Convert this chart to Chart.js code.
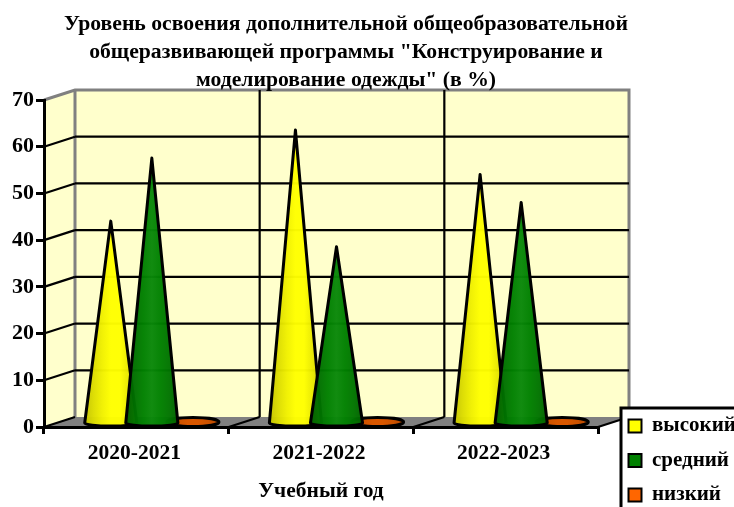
<!DOCTYPE html>
<html><head><meta charset="utf-8">
<style>html,body{margin:0;padding:0;background:#fff;overflow:hidden}canvas{display:block}</style>
<script src="https://cdn.jsdelivr.net/npm/chart.js@4"></script>
</head><body><canvas id="c" width="734" height="507" style="width:734px;height:507px"></canvas>
<script>
const categories = ['2020-2021', '2021-2022', '2022-2023'];
const high = [43, 62.5, 53];
const mid = [56.5, 37.5, 47];
const low = [0, 0, 0];
const seriesNames = ['высокий', 'средний', 'низкий'];
const titleLines = ['Уровень освоения дополнительной общеобразовательной', 'общеразвивающей программы "Конструирование и', 'моделирование одежды" (в %)'];
const xTitle = 'Учебный год';
const FONT = '"Liberation Serif","Times New Roman",serif';
const DX = 31, DY = -10;

const ramps = {
  '#FFFF00': ['#c4c400', '#dcdc00', '#f0f000', '#ffff00', '#ffff00', '#e8e800', '#c8c800'],
  '#008000': ['#005c00', '#007000', '#008000', '#0a880a', '#008000', '#007400', '#006000'],
  '#FF6600': ['#b34700', '#cc5200', '#d95700', '#d95700', '#cc5200', '#b34700']
};

Chart.BarElement.prototype.draw = function (ctx) {
  const { x, y, base, width } = this.getProps(['x', 'y', 'base', 'width'], true);
  const cx = x + DX / 2, hw = width * 0.635, by = base + DY / 2;
  const top = y + DY / 2;
  const flat = base - y < 1;
  const g = ctx.createLinearGradient(cx - hw, 0, cx + hw, 0);
  const r = ramps[this.options.backgroundColor] || ramps['#FFFF00'];
  r.forEach((c, i) => g.addColorStop(i / (r.length - 1), c));
  ctx.save();
  ctx.fillStyle = g;
  ctx.strokeStyle = '#000';
  ctx.lineWidth = 3;
  ctx.lineJoin = 'round';
  ctx.beginPath();
  if (flat) {
    ctx.ellipse(cx, by, hw, 4.5, 0, 0, Math.PI * 2);
  } else {
    ctx.moveTo(cx, top);
    ctx.lineTo(cx + hw, by + 2.5);
    ctx.ellipse(cx, by + 2.5, hw, 3, 0, 0, Math.PI);
    ctx.closePath();
  }
  ctx.globalAlpha = flat ? 1 : 0.97;
  ctx.fill();
  ctx.globalAlpha = 1;
  ctx.stroke();
  ctx.restore();
};

const scene = {
  id: 'scene',
  afterLayout(chart) {
    const t = chart.titleBlock;
    t.left = 0; t.right = 692;
    const l = chart.legend;
    const w = l.width, h = l.height;
    l.left = 615; l.top = 402; l.right = l.left + w; l.bottom = l.top + h;
  },
  beforeDatasetsDraw(chart) {
    [2, 0, 1].forEach(i => chart.getDatasetMeta(i).controller.draw());
    return false;
  },
  beforeDraw(chart) {
    const { ctx, chartArea: a, scales: { x, y } } = chart;
    const y0 = y.getPixelForValue(0), yTop = y.getPixelForValue(70);
    const L = a.left, R = a.right;
    ctx.save();
    ctx.fillStyle = '#fff';
    ctx.fillRect(0, 0, chart.width, chart.height);
    ctx.fillStyle = '#FFFFCC';
    ctx.beginPath();
    ctx.moveTo(L, y0); ctx.lineTo(L, yTop); ctx.lineTo(L + DX, yTop + DY);
    ctx.lineTo(R + DX, yTop + DY); ctx.lineTo(R + DX, y0 + DY); ctx.lineTo(L + DX, y0 + DY);
    ctx.closePath(); ctx.fill();
    ctx.fillStyle = '#808080';
    ctx.beginPath();
    ctx.moveTo(L, y0); ctx.lineTo(L + DX, y0 + DY); ctx.lineTo(R + DX, y0 + DY); ctx.lineTo(R, y0);
    ctx.closePath(); ctx.fill();
    ctx.strokeStyle = '#808080'; ctx.lineWidth = 3;
    ctx.beginPath();
    ctx.moveTo(L, yTop); ctx.lineTo(L + DX, yTop + DY); ctx.lineTo(R + DX, yTop + DY); ctx.lineTo(R + DX, y0 + DY);
    ctx.moveTo(L + DX, yTop + DY); ctx.lineTo(L + DX, y0 + DY);
    ctx.stroke();
    ctx.strokeStyle = '#000'; ctx.lineWidth = 2.2;
    ctx.beginPath();
    y.ticks.forEach(tk => {
      if (tk.value === 70) return;
      const p = y.getPixelForValue(tk.value);
      if (tk.value > 0) {
        ctx.moveTo(L + DX, p + DY); ctx.lineTo(R + DX, p + DY);
      }
      ctx.moveTo(L, p); ctx.lineTo(L + DX, p + DY);
    });
    const step = (R - L) / categories.length;
    for (let i = 1; i <= categories.length; i++) {
      const fx = L + step * i;
      ctx.moveTo(fx, y0); ctx.lineTo(fx + DX, y0 + DY);
      if (i < categories.length) { ctx.moveTo(fx + DX, y0 + DY); ctx.lineTo(fx + DX, yTop + DY); }
    }
    ctx.stroke();
    // legend frame
    ctx.fillStyle = '#fff'; ctx.strokeStyle = '#000'; ctx.lineWidth = 3;
    ctx.fillRect(621, 408, 120, 110);
    ctx.strokeRect(621, 408, 120, 110);
    ctx.restore();
  }
};

new Chart(document.getElementById('c'), {
  type: 'bar',
  data: {
    labels: categories,
    datasets: [
      { label: seriesNames[0], data: high, backgroundColor: '#FFFF00', borderColor: '#000', borderWidth: 2 },
      { label: seriesNames[1], data: mid, backgroundColor: '#008000', borderColor: '#000', borderWidth: 2 },
      { label: seriesNames[2], data: low, backgroundColor: '#FF6600', borderColor: '#000', borderWidth: 2 }
    ]
  },
  plugins: [scene],
  options: {
    responsive: false,
    animation: false,
    layout: { padding: { left: 0, right: 136, top: 0, bottom: 0 } },
    datasets: { bar: { categoryPercentage: 0.667, barPercentage: 1 } },
    plugins: {
      tooltip: { enabled: false },
      title: {
        display: true, text: titleLines, color: '#000',
        font: { family: FONT, size: 21.7, weight: 'bold', lineHeight: 28 / 21.7 },
        padding: { top: 10, bottom: 6 }
      },
      legend: {
        position: 'chartArea', align: 'start',
        labels: {
          font: { family: FONT, size: 21, weight: 'bold' }, color: '#000',
          boxWidth: 13, boxHeight: 13, padding: 13.5
        }
      }
    },
    scales: {
      x: {
        grid: { drawOnChartArea: false, color: '#000', tickColor: '#000', tickLength: 7, lineWidth: 3 },
        border: { color: '#000', width: 3 },
        ticks: { color: '#000', font: { family: FONT, size: 21.5, weight: 'bold' }, padding: 7, maxRotation: 0, labelOffset: -2 },
        title: { display: true, text: xTitle, color: '#000', font: { family: FONT, size: 21.5, weight: 'bold' }, padding: { top: 8, bottom: 3 } },
        afterFit(s) { s.height = 80; }
      },
      y: {
        min: 0, max: 70,
        grid: { drawOnChartArea: false, color: '#000', tickColor: '#000', tickLength: 8, lineWidth: 3 },
        border: { color: '#000', width: 3 },
        ticks: { stepSize: 10, color: '#000', font: { family: FONT, size: 22, weight: 'bold' }, padding: 2 },
        afterFit(s) { s.width = 44; }
      }
    }
  }
});
</script></body></html>
